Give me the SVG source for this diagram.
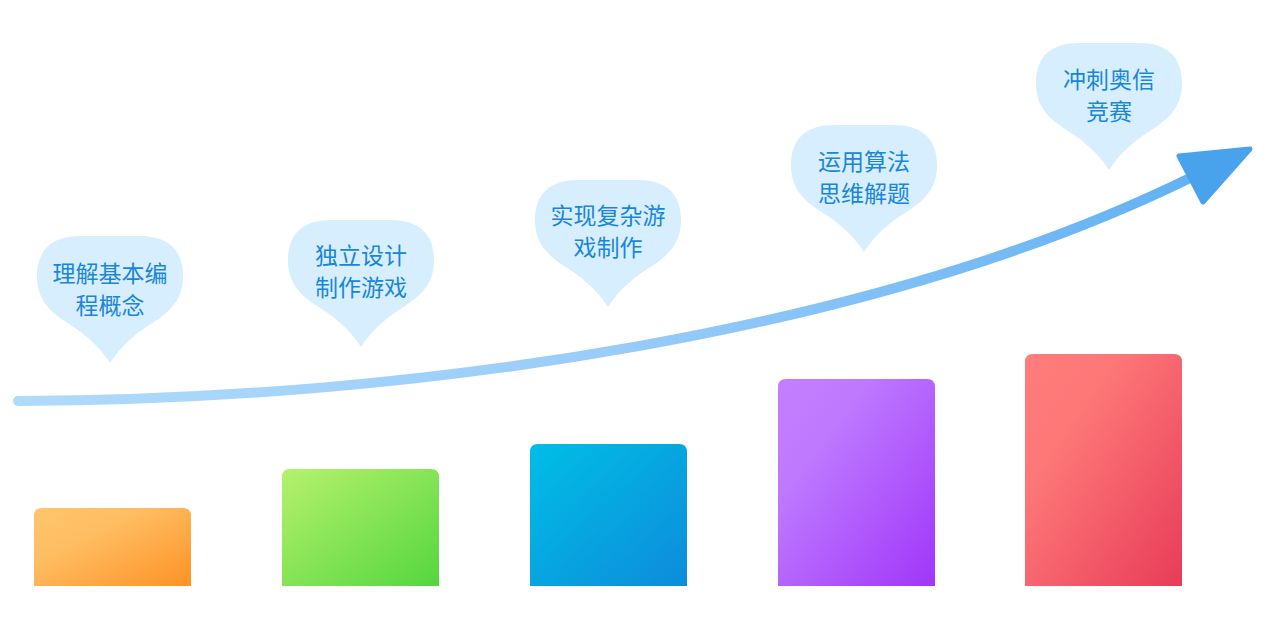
<svg xmlns="http://www.w3.org/2000/svg" width="1270" height="622" viewBox="0 0 1270 622">
  <defs>
    <style>
      .bubble { fill: #d7eeff; }
      .btxt { font-family: "Noto Sans CJK SC", "Noto Sans", sans-serif; font-size: 23px; fill: #1a86d8; text-anchor: middle; }
      .line { fill: none; stroke: url(#lineGrad); stroke-width: 10; stroke-linecap: round; }
      .head { fill: #48a3ec; stroke: #48a3ec; stroke-width: 5; stroke-linejoin: round; }
    </style>
    <path id="bubbleShape" d="M0,127 C-12,108 -28,96 -47,84 C-66,71 -73,58 -73,40 C-73,12 -56,0 -30,0 L30,0 C56,0 73,12 73,40 C73,58 66,71 47,84 C28,96 12,108 0,127 Z"/>
    <linearGradient id="lineGrad" gradientUnits="userSpaceOnUse" x1="18" y1="400" x2="1200" y2="180">
      <stop offset="0" stop-color="#b0dafc"/>
      <stop offset="0.5" stop-color="#98ccf9"/>
      <stop offset="1" stop-color="#62b1f3"/>
    </linearGradient>
    <linearGradient id="g1" x1="0" y1="0" x2="1" y2="1">
      <stop offset="0" stop-color="#ffc66c"/>
      <stop offset="0.35" stop-color="#ffbd62"/>
      <stop offset="1" stop-color="#fd9226"/>
    </linearGradient>
    <linearGradient id="g2" x1="0" y1="0" x2="1" y2="1">
      <stop offset="0" stop-color="#b6f16c"/>
      <stop offset="1" stop-color="#55d63e"/>
    </linearGradient>
    <linearGradient id="g3" x1="0" y1="0" x2="1" y2="1">
      <stop offset="0" stop-color="#00bee6"/>
      <stop offset="1" stop-color="#0d8cdb"/>
    </linearGradient>
    <linearGradient id="g4" x1="0" y1="0" x2="1" y2="1">
      <stop offset="0" stop-color="#c47fff"/>
      <stop offset="0.3" stop-color="#bd78fe"/>
      <stop offset="1" stop-color="#a136f9"/>
    </linearGradient>
    <linearGradient id="g5" x1="0" y1="0" x2="1" y2="1">
      <stop offset="0" stop-color="#ff7d7c"/>
      <stop offset="0.3" stop-color="#fd7777"/>
      <stop offset="1" stop-color="#e83c58"/>
    </linearGradient>
  </defs>

  <rect width="1270" height="622" fill="#ffffff"/>

  <g id="bars">
    <path id="bar1" fill="url(#g1)" d="M34,586 V516 Q34,508 42,508 H183 Q191,508 191,516 V586 Z"/>
    <path id="bar2" fill="url(#g2)" d="M282,586 V477 Q282,469 290,469 H431 Q439,469 439,477 V586 Z"/>
    <path id="bar3" fill="url(#g3)" d="M530,586 V452 Q530,444 538,444 H679 Q687,444 687,452 V586 Z"/>
    <path id="bar4" fill="url(#g4)" d="M778,586 V387 Q778,379 786,379 H927 Q935,379 935,387 V586 Z"/>
    <path id="bar5" fill="url(#g5)" d="M1025,586 V362 Q1025,354 1033,354 H1174 Q1182,354 1182,362 V586 Z"/>
  </g>

  <g id="connectors">
    <path class="line" d="M18,401 C420,400 880,330 1190,178"/>
    <polygon class="head" points="1179,156 1250,149 1203,202"/>
  </g>

  <g id="node1" transform="translate(110,236)">
    <use href="#bubbleShape" class="bubble"/>
    <text class="btxt" x="0" y="46">理解基本编</text>
    <text class="btxt" x="0" y="78">程概念</text>
  </g>
  <g id="node2" transform="translate(361,220)">
    <use href="#bubbleShape" class="bubble"/>
    <text class="btxt" x="0" y="44">独立设计</text>
    <text class="btxt" x="0" y="76">制作游戏</text>
  </g>
  <g id="node3" transform="translate(608,180)">
    <use href="#bubbleShape" class="bubble"/>
    <text class="btxt" x="0" y="44">实现复杂游</text>
    <text class="btxt" x="0" y="76">戏制作</text>
  </g>
  <g id="node4" transform="translate(864,125)">
    <use href="#bubbleShape" class="bubble"/>
    <text class="btxt" x="0" y="45">运用算法</text>
    <text class="btxt" x="0" y="77">思维解题</text>
  </g>
  <g id="node5" transform="translate(1109,43)">
    <use href="#bubbleShape" class="bubble"/>
    <text class="btxt" x="0" y="45">冲刺奥信</text>
    <text class="btxt" x="0" y="77">竞赛</text>
  </g>
</svg>
